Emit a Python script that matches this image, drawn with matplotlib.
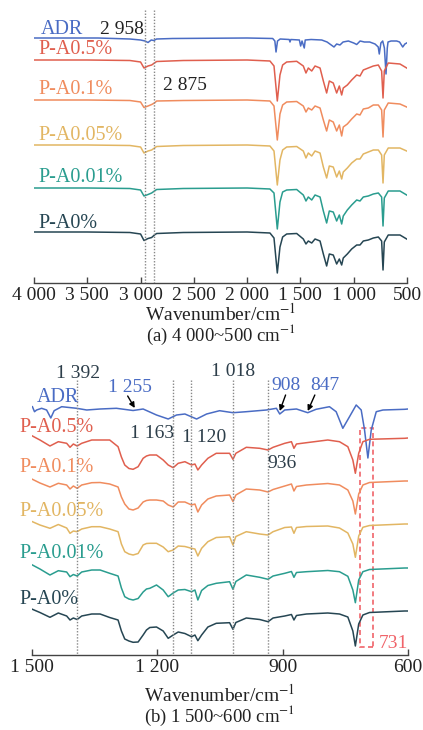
import matplotlib
matplotlib.use("Agg")
import matplotlib.pyplot as plt
from matplotlib.patches import Rectangle

plt.rcParams['font.family'] = ['Liberation Serif', 'DejaVu Serif']
plt.rcParams['mathtext.fontset'] = 'stix'

# sample names and colours
names = ['ADR', 'P-A0.5%', 'P-A0.1%', 'P-A0.05%', 'P-A0.01%', 'P-A0%']
colors = ['#4a6cc4', '#e05f4e', '#f08c5e', '#e2b663', '#2a9d8f', '#264653']

# ---- (a) 4000-500 cm-1 : spectra as offsets below each baseline ----
wn_adr_a = [4000, 3400, 3100, 3000, 2958, 2930, 2900, 2875, 2850, 2700, 2000, 1760, 1740,
            1729, 1715, 1690, 1605, 1598, 1590, 1510, 1498, 1485, 1464, 1455, 1400, 1300,
            1250, 1185, 1160, 1129, 1100, 1050, 1000, 972, 940, 900, 850, 800, 770, 760,
            745, 728, 712, 697, 685, 678, 650, 597, 570, 540, 520, 503]
adr_a = [0, 0, -1, -2, -3, -4.5, -2, -2.5, -1, -0.5, 0, -0.5, -3, -14, -3, -1, -1.5, -4,
         -1.5, -2, -8, -3, -10, -2, -1.5, -2, -4, -9, -6, -7, -4, -3, -5, -6.5, -3, -4,
         -4, -6, -9, -16, -5, -3, -10, -36, -10, -4, -3, -3, -4, -9, -6, -5]

wn_a = [4000, 3500, 3100, 3000, 2968, 2930, 2896, 2870, 2849, 2600, 2000, 1786, 1748, 1717,
        1692, 1667, 1629, 1535, 1473, 1448, 1426, 1394, 1363, 1316, 1285, 1254, 1229, 1192,
        1160, 1135, 1113, 1098, 1060, 1019, 972, 941, 910, 863, 816, 769, 738, 725, 713,
        676, 566, 503]
pa05_a = [0, 0, -0.5, -2, -8, -6, -5, -3, -1.5, -0.5, 0, -1, -6, -41, -15, -5, -2, -1.3, -6,
          -13, -8, -11, -6, -8, -21, -33, -21, -23, -33, -26, -35, -28, -25, -20, -15, -16,
          -10, -8, -6, -5, -11, -38, -11, -3, -4, -8]
pa01_a = [0, 0, -0.5, -2, -7.5, -6, -4.5, -3, -1, -0.5, 0, -1, -6, -40, -14, -5, -2, -1.5, -6,
          -12, -8, -10, -6, -8, -20, -31, -20, -22, -31, -25, -36, -27, -24, -19, -14, -15,
          -9, -8, -5, -5, -10, -37, -10, -3, -4, -7]
pa005_a = [0, 0, -0.5, -2, -8, -6, -5, -3, -1.5, -0.5, 0, -1, -6, -40, -15, -5, -2, -1.5, -6,
           -13, -8, -11, -6, -8, -22, -33, -21, -22, -32, -26, -34, -27, -23, -18, -14, -14,
           -9, -7, -5, -5, -10, -38, -10, -3, -3, -6]
pa001_a = [0, 0, -0.5, -2, -8, -6.5, -5, -3, -1.5, -0.5, 0, -1, -5, -41, -14, -4, -2, -1.5, -7,
           -13, -9, -12, -7, -9, -23, -35, -23, -24, -33, -27, -36, -28, -22, -17, -12, -13,
           -9, -8, -6, -5, -9, -38, -10, -3, -3, -7]
pa0_a = [0, 0, -0.5, -2, -8.5, -6.5, -5.5, -3, -1.5, -0.5, 0, -1, -6, -41, -15, -5, -2, -1.5,
         -7, -12, -9, -11, -7, -9, -22, -34, -22, -23, -32, -27, -33, -26, -22, -17, -13, -13,
         -9, -8, -6, -5, -9, -38, -10, -3, -3, -7]

# ---- (b) 1500-600 cm-1 ----
wn_adr_b = [1499, 1494, 1489, 1477, 1465, 1455, 1447, 1429, 1393, 1369, 1337, 1298, 1258,
            1234, 1202, 1174, 1154, 1134, 1106, 1082, 1051, 1019, 987, 939, 915, 907, 895,
            867, 840, 820, 788, 772, 756, 740, 724, 712, 704, 696, 688, 676, 660, 608, 600]
adr_b = [2.3, -2.7, -1, 0.7, -1, -9, -1.7, 2.3, 0.7, -1, 0, 0.7, -1.5, 0, -6, -10, -6, -5,
         -10, -5, -1.7, -3.7, -2.7, -1, 0.7, -5, -1, 0, -3.7, -0.3, 2.3, -2.7, -19.3, -7.7,
         4, -1, -21, -49, -21, -2.7, -1, -0.3, 0]

wn_b = [1499, 1481, 1457, 1437, 1417, 1409, 1401, 1392, 1381, 1357, 1337, 1314, 1294, 1286,
        1278, 1268, 1258, 1246, 1234, 1226, 1218, 1202, 1186, 1174, 1162, 1150, 1134, 1118,
        1110, 1103, 1094, 1079, 1059, 1027, 1019, 1012, 987, 955, 935, 923, 895, 879, 873,
        867, 843, 792, 764, 744, 732, 726, 718, 708, 692, 608, 600]
pa05_b = [2, -2, -8, -3.7, -5.3, -9.3, -6, -8, -5.3, -2, -2, -2, -8.7, -19, -27, -30.5, -31.3,
          -28.7, -20.3, -18, -17, -17, -22, -27, -29.7, -25.3, -23.7, -27, -26, -32, -27,
          -20.3, -15.3, -15.3, -21.3, -15.3, -9.3, -10.3, -12, -9.3, -5.3, -3.7, -10.3, -6,
          -4.7, -2, -3.7, -8.7, -22, -35.3, -15.3, -3.7, -1.3, -0.3, 0]
pa01_b = [1.7, -2, -6, -2.3, -4, -8, -5, -7.3, -4, -1.7, -1.5, -3, -6, -16, -23, -28, -29,
          -27, -21, -19.5, -19, -19, -20, -24, -26, -21, -21, -24, -23, -31, -24, -18, -15,
          -14, -20.5, -14, -8, -9, -11, -8.5, -5, -3, -10, -5.5, -4, -2.5, -4, -9, -20, -33,
          -13, -4, -1.5, 0, 0]
pa005_b = [2.3, -1, -4.3, -0.5, -4, -9.3, -7, -7.7, -5, -2.7, -2.7, -5, -7.7, -20, -27.7, -30,
           -31, -29.5, -21, -19.5, -19.3, -19.3, -23, -27.7, -26, -22, -22.5, -24.3, -25, -32,
           -24.3, -17.7, -13.5, -12.7, -21, -12.5, -7.7, -10, -11, -7.7, -3.5, -3, -9.3,
           -3.5, -2.5, -2, -4, -9, -20, -33.3, -12, -3.3, -1.5, 0, 0]
pa001_b = [3, -1, -7, -2.7, -4, -8.7, -6.5, -8, -4, -2, -2, -5.3, -8, -20, -28.7, -31, -32,
           -30.5, -24, -21, -20.3, -17, -22, -28.7, -25, -22, -21.5, -23.7, -22, -32, -22.5,
           -17.5, -15.3, -13.7, -21.3, -13.5, -7, -9.3, -11.3, -8, -5.3, -3.5, -9.3, -4.5,
           -3.7, -2.5, -3.7, -8.3, -22, -34.7, -12, -3.7, -1.5, 0, 0]
pa0_b = [1.7, -1.5, -6.3, -2, -5, -9, -7, -8.5, -5, -3, -3, -6.5, -9, -20, -28, -30, -31.3,
         -31, -24, -19, -16.5, -16, -20, -27.3, -24, -21, -22.5, -25.7, -24, -29.7, -24, -16,
         -12.3, -11.7, -18.3, -11.5, -7, -8.5, -10.7, -7, -5, -3.5, -9, -4.5, -3, -2, -3,
         -6, -20, -35, -13, -4, -1.5, 0, 0]

# marked bands
bands_a = [2958, 2875]
bands_b = [1392, 1163, 1120, 1018, 936]

# baselines (y, down from top) used to stack the traces
base_a = [38, 60, 100, 145, 188, 232]
base_b = [409, 438, 481, 524, 568, 611]

W, H = 423, 730
fig = plt.figure(figsize=(W / 100, H / 100), dpi=100)


def axes_px(x0, x1, y0, y1):
    return fig.add_axes([x0 / W, 1 - y1 / H, (x1 - x0) / W, (y1 - y0) / H])


def style(ax, ticks, labels):
    for s in ['left', 'right', 'top']:
        ax.spines[s].set_visible(False)
    ax.spines['bottom'].set_color('#444444')
    ax.spines['bottom'].set_linewidth(1.0)
    ax.set_yticks([])
    ax.set_xticks(ticks)
    ax.set_xticklabels(labels)
    ax.tick_params(axis='x', direction='in', length=4, width=1, color='#444444',
                   labelsize=14, labelcolor='#222222', pad=3)


# panel (a)
ax1 = axes_px(34, 407, 5, 283)
ax1.set_xlim(4000, 500)
ax1.set_ylim(-283, -5)
series_a = [(wn_adr_a, adr_a), (wn_a, pa05_a), (wn_a, pa01_a), (wn_a, pa005_a),
            (wn_a, pa001_a), (wn_a, pa0_a)]
for (x, y), b, c in zip(series_a, base_a, colors):
    ax1.plot(x, [v - b for v in y], color=c, lw=1.1)
for wn in bands_a:
    ax1.plot([wn, wn], [-10, -283], color='#888888', lw=1.0, ls=(0, (1, 1.2)))
style(ax1, [4000, 3500, 3000, 2500, 2000, 1500, 1000, 500],
      ['4 000', '3 500', '3 000', '2 500', '2 000', '1 500', '1 000', '500'])

lab_a = [(3934, 30), (3962, 50), (3962, 90), (3962, 135), (3962, 178), (3962, 223)]
for (x, y), n, c in zip(lab_a, names, colors):
    ax1.text(x, -y, n, color=c, fontsize=14.5, ha='left', va='center')
ax1.text(3380, -30, '2 958', color='#222222', fontsize=14, ha='left', va='center')
ax1.text(2790, -85, '2 875', color='#222222', fontsize=14, ha='left', va='center')

fig.text(221 / W, 1 - 314 / H, r'Wavenumber/cm$^{-1}$', ha='center', va='center',
         fontsize=14, color='#222222')
fig.text(221 / W, 1 - 335 / H, r'(a) 4 000~500 cm$^{-1}$', ha='center', va='center',
         fontsize=13.5, color='#222222')

# panel (b)
ax2 = axes_px(32, 408, 365, 655)
ax2.set_xlim(1500, 600)
ax2.set_ylim(-655, -365)
series_b = [(wn_adr_b, adr_b), (wn_b, pa05_b), (wn_b, pa01_b), (wn_b, pa005_b),
            (wn_b, pa001_b), (wn_b, pa0_b)]
for (x, y), b, c in zip(series_b, base_b, colors):
    ax2.plot(x, [v - b for v in y], color=c, lw=1.1)
for wn in bands_b:
    ax2.plot([wn, wn], [-380, -655], color='#888888', lw=1.0, ls=(0, (1, 1.2)))
style(ax2, [1500, 1200, 900, 600], ['1 500', '1 200', '900', '600'])

lab_b = [(1488, 397), (1529, 427), (1529, 468), (1529, 511), (1529, 553), (1529, 599)]
for (x, y), n, c in zip(lab_b, names, colors):
    ax2.text(x, -y, n, color=c, fontsize=14.5, ha='left', va='center')

dark = '#2d3e4a'
ax2.text(1389, -373, '1 392', color=dark, fontsize=14, ha='center', va='center')
ax2.text(1018, -372, '1 018', color=dark, fontsize=14, ha='center', va='center')
ax2.text(1212, -433, '1 163', color=dark, fontsize=14, ha='center', va='center')
ax2.text(1088, -437, '1 120', color=dark, fontsize=14, ha='center', va='center')
ax2.text(902, -464, '936', color=dark, fontsize=14, ha='center', va='center')
ax2.text(1265, -388, '1 255', color=colors[0], fontsize=14, ha='center', va='center')
ax2.text(893, -386, '908', color=colors[0], fontsize=14, ha='center', va='center')
ax2.text(800, -386, '847', color=colors[0], fontsize=14, ha='center', va='center')

arrows = [((1254, -408), (1271, -396)), ((907, -411), (893, -395)),
          ((840, -411), (823, -395))]
for tip, tail in arrows:
    ax2.annotate('', xy=tip, xytext=tail,
                 arrowprops=dict(arrowstyle='-|>', color='black', lw=1.0,
                                 mutation_scale=8, shrinkA=0, shrinkB=0))

# dashed box round the 731 band
ax2.add_patch(Rectangle((683, -647), 31, 219, fill=False, ec='#f0646a', lw=1.2,
                        ls=(0, (3, 2))))
ax2.text(669, -643, '731', color='#f0646a', fontsize=14, ha='left', va='center')

fig.text(220 / W, 1 - 695 / H, r'Wavenumber/cm$^{-1}$', ha='center', va='center',
         fontsize=14, color='#222222')
fig.text(220 / W, 1 - 716 / H, r'(b) 1 500~600 cm$^{-1}$', ha='center', va='center',
         fontsize=13.5, color='#222222')

fig.savefig('out.png', dpi=100)
